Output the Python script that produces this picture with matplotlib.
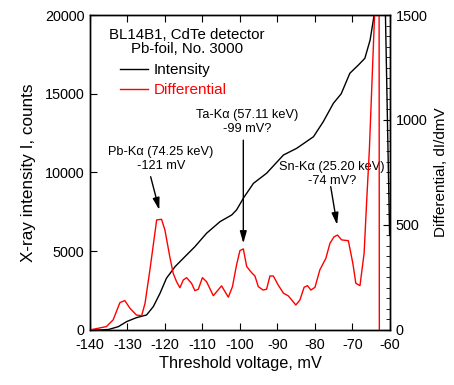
import matplotlib
matplotlib.use("Agg")
import matplotlib.pyplot as plt

plt.rcParams["font.family"] = ["Liberation Sans", "DejaVu Sans"]
plt.rcParams["font.size"] = 10.4
plt.rcParams["axes.unicode_minus"] = False

# ======================================================
# Data
# ======================================================

# integral counts vs threshold
volt_int = [-140, -137, -135, -134, -132.4, -130.2, -127.6, -124.9, -123.1,
            -121.3, -119.6, -117.3, -115.1, -112, -108.9, -105.3, -102.2,
            -100.9, -99, -96.4, -92.9, -88.4, -84.9, -80.4, -77.8, -75.1,
            -73, -70.7, -68.4, -66.7, -65.3, -64.3, -62, -60.1]
intensity = [0, 0, 30, 100, 210, 530, 780, 950, 1480,
             2330, 3280, 4020, 4550, 5290, 6140, 6880, 7300,
             7620, 8400, 9310, 9950, 11110, 11530, 12270, 13220, 14390,
             15000, 16300, 16830, 17250, 18410, 19890, 30000, 6000]

# differential dI/dmV
volt_diff = [-140, -135.6, -133.8, -132, -130.7, -129.3, -127.6, -126.2,
             -125.3, -124, -122.2, -120.9, -120, -118.7, -117.8, -116.9,
             -116, -115.1, -114.2, -112.9, -112, -111.1, -110, -108.9,
             -107.1, -104.9, -103.1, -102, -100.9, -100, -99.1, -98.2,
             -96.9, -96, -95.1, -93.8, -92.9, -92, -91.1, -89.8, -88.4,
             -87.1, -85.1, -84, -82.9, -82, -81.1, -80, -78.7, -77.1, -76,
             -74.9, -74, -72.9, -71.1, -69.9, -69.1, -68, -66.9, -66.2,
             -65.5, -64, -63, -62.8]
differential = [0, 16, 48, 130, 140, 103, 71, 68,
                127, 286, 524, 527, 476, 349, 270, 230,
                201, 238, 249, 222, 187, 194, 249, 230,
                163, 210, 156, 206, 310, 378, 386, 302,
                273, 257, 206, 190, 194, 257, 257, 214, 175,
                162, 119, 143, 203, 211, 190, 203, 286, 341, 413,
                444, 452, 429, 425, 317, 222, 211, 365, 619,
                857, 1550, 4000, -1000]

# peak annotations: text, text top (x, I), arrow tail and tip (x, I)
peak_labels = ["Pb-Kα (74.25 keV)\n-121 mV",
               "Ta-Kα (57.11 keV)\n-99 mV?",
               "Sn-Kα (25.20 keV)\n-74 mV?"]
peak_text_xy = [(-121.0, 11700), (-98.1, 14050), (-75.5, 10700)]
peak_tail_xy = [(-123.8, 9730), (-99.1, 12050), (-75.8, 9100)]
peak_tip_xy = [(-121.5, 7620), (-99.1, 5500), (-74.1, 6670)]

# ======================================================
# Plot
# ======================================================

fig = plt.figure(figsize=(4.54, 3.85), dpi=100)
ax = fig.add_axes([0.198, 0.143, 0.661, 0.818])
ax2 = ax.twinx()

line_i, = ax.plot(volt_int, intensity, color="black", lw=1.0,
                  label="Intensity")
line_d, = ax2.plot(volt_diff, differential, color="red", lw=1.0,
                   label="Differential")

ax.set_xlim(-140, -60)
ax.set_ylim(0, 20000)
ax2.set_ylim(0, 1500)

ax.set_xticks(range(-140, -59, 10))
ax.set_yticks(range(0, 20001, 5000))
ax2.set_yticks(range(0, 1501, 500))
ax2.set_yticks(range(0, 1501, 50), minor=True)

ax.tick_params(axis="x", direction="in", top=True, length=5, pad=6)
ax.tick_params(axis="y", direction="in", length=5, pad=4)
ax2.tick_params(axis="y", which="major", direction="in", length=5, pad=4)
ax2.tick_params(axis="y", which="minor", direction="in", length=3)

ax.set_xlabel("Threshold voltage, mV", fontsize=11.7, labelpad=3)
ax.set_ylabel("X-ray intensity I, counts", fontsize=12.3, labelpad=6)
ax2.set_ylabel("Differential, dI/dmV", fontsize=11, labelpad=5)

for a in (ax, ax2):
    for s in a.spines.values():
        s.set_linewidth(1.0)

# header
ax.text(0.323, 0.958, "BL14B1, CdTe detector\nPb-foil, No. 3000",
        transform=ax.transAxes, ha="center", va="top", fontsize=10.8,
        linespacing=1.0)

ax.legend(handles=[line_i, line_d], loc="upper left",
          bbox_to_anchor=(0.1, 0.848), frameon=False, labelcolor="linecolor",
          fontsize=11, handlelength=1.85, handletextpad=0.35, borderpad=0,
          borderaxespad=0, labelspacing=0.4)

# peak arrows
for label, txt, tail, tip in zip(peak_labels, peak_text_xy,
                                 peak_tail_xy, peak_tip_xy):
    ax.text(txt[0], txt[1], label, ha="center", va="top", fontsize=9.2,
            linespacing=1.2)
    ax.annotate("", xy=tip, xytext=tail,
                arrowprops=dict(arrowstyle="-|>,head_length=0.6,head_width=0.17",
                                color="black", lw=1.0, mutation_scale=12,
                                shrinkA=0, shrinkB=0))

plt.savefig("out.png", dpi=100)
